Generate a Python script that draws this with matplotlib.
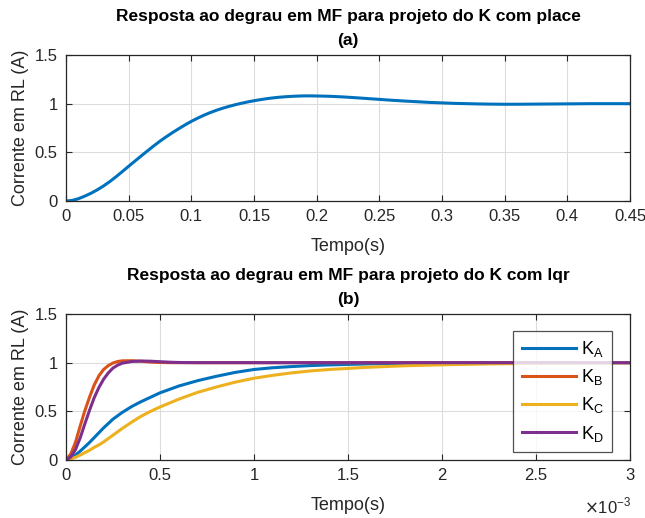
import matplotlib
matplotlib.use("Agg")
import matplotlib.pyplot as plt
import numpy as np

plt.rcParams['font.family'] = ['Liberation Sans', 'DejaVu Sans']

# ---- data (a) : place design ----
t_place = [0, 0.005, 0.01, 0.015, 0.02, 0.025, 0.03, 0.035, 0.04, 0.045,
           0.05, 0.055, 0.06, 0.065, 0.07, 0.075, 0.08, 0.085, 0.09, 0.095,
           0.10, 0.105, 0.11, 0.115, 0.12, 0.125, 0.13, 0.135, 0.14, 0.145,
           0.15, 0.155, 0.16, 0.165, 0.17, 0.175, 0.18, 0.185, 0.19, 0.195,
           0.20, 0.21, 0.22, 0.23, 0.24, 0.25, 0.26, 0.27, 0.28, 0.29,
           0.30, 0.31, 0.32, 0.33, 0.34, 0.35, 0.36, 0.37, 0.38, 0.39,
           0.40, 0.42, 0.44, 0.45]
i_place = [0, 0.006, 0.024, 0.05, 0.08, 0.115, 0.155, 0.2, 0.25, 0.303,
           0.357, 0.41, 0.463, 0.515, 0.566, 0.615, 0.66, 0.703, 0.743, 0.782,
           0.818, 0.851, 0.881, 0.908, 0.932, 0.953, 0.972, 0.989, 1.004, 1.018,
           1.03, 1.041, 1.051, 1.059, 1.066, 1.071, 1.075, 1.078, 1.08, 1.08,
           1.079, 1.076, 1.07, 1.062, 1.053, 1.044, 1.035, 1.027, 1.02, 1.013,
           1.008, 1.003, 1.0, 0.997, 0.995, 0.994, 0.994, 0.995, 0.996, 0.997,
           0.998, 1.0, 1.0, 1.0]

# ---- data (b) : lqr designs (time in ms) ----
t_lqr_ms = [0, 0.025, 0.05, 0.075, 0.1, 0.125, 0.15, 0.175, 0.2, 0.225,
            0.25, 0.275, 0.3, 0.35, 0.4, 0.45, 0.5, 0.55, 0.6, 0.7,
            0.8, 0.9, 1.0, 1.1, 1.2, 1.3, 1.4, 1.6, 1.8, 2.0,
            2.25, 2.5, 2.75, 3.0]
i_KA = [0, 0.018, 0.05, 0.09, 0.135, 0.18, 0.23, 0.28, 0.33, 0.375,
        0.42, 0.455, 0.49, 0.55, 0.60, 0.645, 0.69, 0.725, 0.76, 0.815,
        0.86, 0.90, 0.93, 0.948, 0.96, 0.97, 0.977, 0.987, 0.993, 0.996,
        0.998, 0.999, 1.0, 1.0]
i_KB = [0, 0.06, 0.18, 0.345, 0.505, 0.645, 0.77, 0.865, 0.93, 0.97,
        0.997, 1.012, 1.019, 1.02, 1.014, 1.006, 1.002, 1.0, 1.0, 1.0,
        1.0, 1.0, 1.0, 1.0, 1.0, 1.0, 1.0, 1.0, 1.0, 1.0,
        1.0, 1.0, 1.0, 1.0]
i_KC = [0, 0.01, 0.027, 0.05, 0.075, 0.10, 0.13, 0.155, 0.185, 0.22,
        0.255, 0.29, 0.325, 0.39, 0.45, 0.50, 0.545, 0.585, 0.625, 0.695,
        0.75, 0.80, 0.84, 0.87, 0.895, 0.915, 0.93, 0.952, 0.968, 0.978,
        0.987, 0.993, 0.997, 0.999]
i_KD = [0, 0.03, 0.105, 0.225, 0.37, 0.51, 0.64, 0.745, 0.83, 0.895,
        0.945, 0.975, 0.995, 1.012, 1.017, 1.015, 1.01, 1.005, 1.002, 1.0,
        1.0, 1.0, 1.0, 1.0, 1.0, 1.0, 1.0, 1.0, 1.0, 1.0,
        1.0, 1.0, 1.0, 1.0]

series_lqr = [i_KA, i_KB, i_KC, i_KD]
labels_lqr = ['K$_{\\mathregular{A}}$', 'K$_{\\mathregular{B}}$',
              'K$_{\\mathregular{C}}$', 'K$_{\\mathregular{D}}$']
colors = ['#0072BD', '#D95319', '#EDB120', '#7E2F8E']

xt1 = [0, 0.05, 0.1, 0.15, 0.2, 0.25, 0.3, 0.35, 0.4, 0.45]
xt1_labels = ['0', '0.05', '0.1', '0.15', '0.2', '0.25', '0.3', '0.35', '0.4', '0.45']
xt2_ms = [0, 0.5, 1, 1.5, 2, 2.5, 3]
xt2_labels = ['0', '0.5', '1', '1.5', '2', '2.5', '3']

t_lqr = np.array(t_lqr_ms) * 1e-3

fig = plt.figure(figsize=(6.45, 5.18), dpi=100)
ax1 = fig.add_axes([66/645, 1-201/518, (630-66)/645, (201-55)/518])
ax2 = fig.add_axes([66/645, 1-460/518, (630-66)/645, (460-314)/518])

edge = '#262626'
def style(ax):
    ax.grid(True, color='#dcdcdc', linewidth=0.8)
    ax.set_axisbelow(True)
    for s in ax.spines.values():
        s.set_color(edge)
        s.set_linewidth(0.9)
    ax.tick_params(direction='in', top=True, right=True, length=4,
                   color=edge, labelsize=12, labelcolor=edge, pad=6)
    ax.set_ylim(0, 1.5)
    ax.set_yticks([0, 0.5, 1, 1.5])
    ax.set_yticklabels(['0', '0.5', '1', '1.5'])
    ax.set_ylabel('Corrente em RL (A)', fontsize=13, color=edge, labelpad=4)
    ax.set_xlabel('Tempo(s)', fontsize=13, color=edge, labelpad=10)

ax1.plot(t_place, i_place, color=colors[0], linewidth=2.2)
style(ax1)
ax1.set_xlim(0, 0.45)
ax1.set_xticks(xt1)
ax1.set_xticklabels(xt1_labels)
ax1.set_title('Resposta ao degrau em MF para projeto do K com place\n(a)',
              fontsize=12.5, fontweight='bold', pad=7, linespacing=1.8)

for y, c, lab in zip(series_lqr, colors, labels_lqr):
    ax2.plot(t_lqr, y, color=c, linewidth=2.2, label=lab)
style(ax2)
ax2.set_xlim(0, 3e-3)
ax2.set_xticks(np.array(xt2_ms) * 1e-3)
ax2.set_xticklabels(xt2_labels)
fig.text(631/645, 1-516/518, r'$\times$10$^{\mathregular{-3}}$', ha='right',
         va='bottom', fontsize=12, color=edge)
ax2.set_title('Resposta ao degrau em MF para projeto do K com lqr\n(b)',
              fontsize=12.5, fontweight='bold', pad=7, linespacing=1.8)
leg = ax2.legend(loc='upper right', bbox_to_anchor=(612/645, 1-331/518),
                 bbox_transform=fig.transFigure, borderaxespad=0,
                 fontsize=13, frameon=True,
                 fancybox=False, edgecolor=edge, handlelength=3.0,
                 labelspacing=0.45, borderpad=0.45, handletextpad=0.3)
leg.get_frame().set_linewidth(0.9)

fig.savefig('out.png', dpi=100, facecolor='white')
